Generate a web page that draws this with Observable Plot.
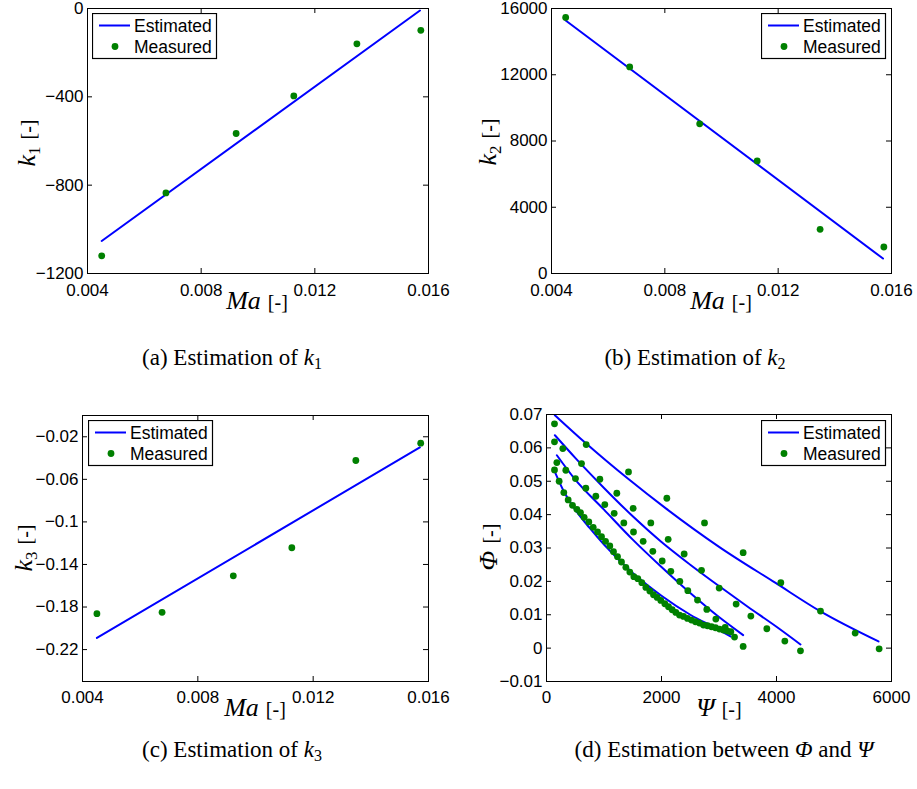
<!DOCTYPE html>
<html><head><meta charset="utf-8">
<script src="https://cdn.jsdelivr.net/npm/d3@7"></script>
<script src="https://cdn.jsdelivr.net/npm/@observablehq/plot@0.6"></script>
<style>
html,body{margin:0;padding:0;background:#fff;}
#root{position:relative;width:917px;height:789px;overflow:hidden;background:#fff;}
.panel{position:absolute;}
.txt{position:absolute;white-space:nowrap;line-height:1;color:#000;font-family:"Liberation Serif","DejaVu Serif",serif;transform:translate(-50%,-50%);}
.rot{transform:translate(-50%,-50%) rotate(-90deg);}
.txt i{font-style:italic;}
.txt sub{vertical-align:-0.3em;line-height:0;}
.axl i{font-size:26px;}
.axl sub{font-size:17px;}
.axl span{font-size:20px;margin-left:7px;}
.cap{font-size:23px;}
.cap sub{font-size:16px;}
.leg{position:absolute;}
</style></head>
<body><div id="root"></div>
<script>
// ---------- data ----------
const maValues = [0.0045, 0.00676, 0.00923, 0.01126, 0.01348, 0.01573];
const estMa = [0.0045, 0.0157];

const k1Measured = [-1120, -835, -566, -396, -160, -99];
const k1Estimated = [-1053, -9];

const k2Measured = [15460, 12470, 9040, 6797, 2665, 1600];
const k2Estimated = [15278, 902];

const k3Measured = [-0.1863, -0.185, -0.1507, -0.1243, -0.0423, -0.026];
const k3Estimated = [-0.209, -0.030];

const psiMeas1 = [139, 690, 1426, 2093, 2748, 3420, 4075, 4765, 5368, 5785];
const phiMeas1 = [0.0672, 0.0610, 0.0528, 0.0449, 0.0375, 0.0286, 0.0196, 0.0111, 0.0045, -0.0002];
const psiMeas2 = [139, 284, 609, 928, 1223, 1507, 1814, 2116, 2394, 2696, 3003, 3298, 3554, 3832, 4145, 4417];
const phiMeas2 = [0.0618, 0.0598, 0.0553, 0.0506, 0.0464, 0.0419, 0.0375, 0.0326, 0.0282, 0.0233, 0.0180, 0.0132, 0.0096, 0.0058, 0.0021, -0.0008];
const psiMeas3 = [180, 336, 504, 684, 858, 1014, 1177, 1345, 1513, 1681, 1849, 2012, 2162, 2319, 2458, 2626, 2788, 2945, 3107, 3270, 3420];
const phiMeas3 = [0.0556, 0.0533, 0.0508, 0.0479, 0.0455, 0.0430, 0.0404, 0.0375, 0.0348, 0.0320, 0.0290, 0.0261, 0.0230, 0.0200, 0.0172, 0.0144, 0.0116, 0.0087, 0.0062, 0.0033, 0.0005];
const psiMeas4 = [139, 220, 301, 377, 452, 528, 591, 655, 736, 812, 887, 957, 1026, 1101, 1165, 1235, 1304, 1380, 1449, 1519, 1588, 1658, 1728, 1797, 1861, 1925, 1988, 2058, 2122, 2186, 2249, 2313, 2383, 2452, 2522, 2591, 2661, 2730, 2800, 2870, 2939, 3009, 3078, 3148, 3206];
const phiMeas4 = [0.0534, 0.0500, 0.0466, 0.0444, 0.0428, 0.0416, 0.0406, 0.0392, 0.0378, 0.0362, 0.0348, 0.0334, 0.0320, 0.0306, 0.0289, 0.0274, 0.0258, 0.0242, 0.0228, 0.0214, 0.0208, 0.0196, 0.0182, 0.0171, 0.0160, 0.0152, 0.0143, 0.0133, 0.0124, 0.0115, 0.0107, 0.0099, 0.0095, 0.0089, 0.0084, 0.0079, 0.0075, 0.0069, 0.0067, 0.0064, 0.0061, 0.0057, 0.0054, 0.0051, 0.0049];

const psiEst1 = [145, 690, 1414, 2081, 3014, 3977, 4765, 5774];
const phiEst1 = [0.0698, 0.0613, 0.0508, 0.0418, 0.0302, 0.0196, 0.0110, 0.0020];
const psiEst2 = [145, 500, 1000, 1500, 2000, 2500, 3000, 3500, 4000, 4417];
const phiEst2 = [0.0638, 0.0570, 0.0480, 0.0395, 0.0318, 0.0250, 0.0186, 0.0124, 0.0064, 0.0011];
const psiEst3 = [180, 500, 1000, 1500, 2000, 2500, 3000, 3420];
const phiEst3 = [0.0578, 0.0505, 0.0415, 0.0325, 0.0243, 0.0165, 0.0093, 0.0039];
const psiEst4 = [145, 300, 500, 750, 1000, 1500, 2000, 2500, 3000, 3200];
const phiEst4 = [0.0528, 0.0470, 0.0415, 0.0360, 0.0310, 0.0225, 0.0157, 0.0100, 0.0055, 0.0035];

const maTicks = [0.004, 0.008, 0.012, 0.016];
const maTickLabels = ["0.004", "0.008", "0.012", "0.016"];
const k1Ticks = [-1200, -800, -400, 0];
const k1TickLabels = ["\u22121200", "\u2212800", "\u2212400", "0"];
const k2Ticks = [0, 4000, 8000, 12000, 16000];
const k2TickLabels = ["0", "4000", "8000", "12000", "16000"];
const k3Ticks = [-0.22, -0.18, -0.14, -0.1, -0.06, -0.02];
const k3TickLabels = ["\u22120.22", "\u22120.18", "\u22120.14", "\u22120.1", "\u22120.06", "\u22120.02"];
const psiTicks = [0, 2000, 4000, 6000];
const psiTickLabels = ["0", "2000", "4000", "6000"];
const phiTicks = [-0.01, 0, 0.01, 0.02, 0.03, 0.04, 0.05, 0.06, 0.07];
const phiTickLabels = ["\u22120.01", "0", "0.01", "0.02", "0.03", "0.04", "0.05", "0.06", "0.07"];

const legendLabels = ["Estimated", "Measured"];
const BLUE = "#0000ff", GREEN = "#008000";

// ---------- helpers ----------
function rows(xs, ys, s) { return xs.map((x, i) => ({x, y: ys[i], s})); }

function makePanel(cfg) {
  const pw = cfg.width - cfg.ml - cfg.mr;
  const ph = cfg.height - cfg.mt - cfg.mb;
  const xLab = new Map(cfg.xTicks.map((t, i) => [t, cfg.xLabels[i]]));
  const yLab = new Map(cfg.yTicks.map((t, i) => [t, cfg.yLabels[i]]));
  const svg = Plot.plot({
    width: cfg.width, height: cfg.height,
    marginLeft: cfg.ml, marginRight: cfg.mr, marginTop: cfg.mt, marginBottom: cfg.mb,
    x: {type: "linear", domain: cfg.xDomain},
    y: {type: "linear", domain: cfg.yDomain},
    style: {fontFamily: "'Liberation Sans', Arial, sans-serif", fontSize: "17px", color: "#000", background: "transparent", overflow: "visible"},
    marks: [
      Plot.line(cfg.est, {x: "x", y: "y", z: "s", stroke: BLUE, strokeWidth: 2, curve: "monotone-x"}),
      Plot.dot(cfg.meas, {x: "x", y: "y", r: 3.4, fill: GREEN}),
      Plot.frame({stroke: "#000", strokeWidth: 1}),
      Plot.tickX(cfg.xTicks, {x: d => d, insetTop: ph - 5, stroke: "#000"}),
      Plot.tickX(cfg.xTicks, {x: d => d, insetBottom: ph - 5, stroke: "#000"}),
      Plot.tickY(cfg.yTicks, {y: d => d, insetRight: pw - 5, stroke: "#000"}),
      Plot.tickY(cfg.yTicks, {y: d => d, insetLeft: pw - 5, stroke: "#000"}),
      Plot.axisX(cfg.xTicks, {tickSize: 0, tickPadding: cfg.xPad, tickFormat: d => xLab.get(d), label: null, fontSize: 17}),
      Plot.axisY(cfg.yTicks, {tickSize: 0, tickPadding: 4, tickFormat: d => yLab.get(d), label: null, fontSize: 17})
    ]
  });
  svg.classList.add("panel");
  svg.style.left = cfg.left + "px";
  svg.style.top = cfg.top + "px";
  svg.style.position = "absolute";
  return svg;
}

function addText(html, cls, cx, cy) {
  const d = document.createElement("div");
  d.className = "txt " + cls;
  d.innerHTML = html;
  d.style.left = cx + "px";
  d.style.top = cy + "px";
  root.appendChild(d);
}

function addLegend(left, top) {
  const w = 125, h = 46;
  const ns = "http://www.w3.org/2000/svg";
  const s = document.createElementNS(ns, "svg");
  s.setAttribute("width", w + 1); s.setAttribute("height", h + 1);
  s.setAttribute("class", "leg");
  s.style.left = left + "px"; s.style.top = top + "px";
  s.innerHTML =
    `<rect x="0.5" y="0.5" width="${w - 1}" height="${h - 1}" fill="#fff" stroke="#000" stroke-width="1.2"/>` +
    `<line x1="7" x2="38" y1="12.5" y2="12.5" stroke="${BLUE}" stroke-width="2"/>` +
    `<circle cx="23" cy="33.5" r="3.4" fill="${GREEN}"/>` +
    `<text x="42" y="12.5" dy="0.36em" font-family="Liberation Sans, Arial, sans-serif" font-size="17.5">${legendLabels[0]}</text>` +
    `<text x="42" y="33.5" dy="0.36em" font-family="Liberation Sans, Arial, sans-serif" font-size="17.5">${legendLabels[1]}</text>`;
  root.appendChild(s);
}

const root = document.getElementById("root");

// (a)
root.appendChild(makePanel({
  left: 0, top: 0, width: 458, height: 310, ml: 87, mr: 30, mt: 8, mb: 37, xPad: 10,
  xDomain: [0.004, 0.016], yDomain: [-1200, 0],
  xTicks: maTicks, xLabels: maTickLabels, yTicks: k1Ticks, yLabels: k1TickLabels,
  est: rows(estMa, k1Estimated, "e"), meas: rows(maValues, k1Measured, "m")
}));
// (b)
root.appendChild(makePanel({
  left: 458, top: 0, width: 459, height: 310, ml: 93, mr: 26, mt: 8, mb: 37, xPad: 10,
  xDomain: [0.004, 0.016], yDomain: [0, 16000],
  xTicks: maTicks, xLabels: maTickLabels, yTicks: k2Ticks, yLabels: k2TickLabels,
  est: rows(estMa, k2Estimated, "e"), meas: rows(maValues, k2Measured, "m")
}));
// (c)
root.appendChild(makePanel({
  left: 0, top: 395, width: 458, height: 320, ml: 82, mr: 30, mt: 20, mb: 34, xPad: 9,
  xDomain: [0.004, 0.016], yDomain: [-0.25, 0],
  xTicks: maTicks, xLabels: maTickLabels, yTicks: k3Ticks, yLabels: k3TickLabels,
  est: rows(estMa, k3Estimated, "e"), meas: rows(maValues, k3Measured, "m")
}));
// (d)
root.appendChild(makePanel({
  left: 458, top: 395, width: 459, height: 320, ml: 88, mr: 26, mt: 19, mb: 34, xPad: 9,
  xDomain: [0, 6000], yDomain: [-0.01, 0.07],
  xTicks: psiTicks, xLabels: psiTickLabels, yTicks: phiTicks, yLabels: phiTickLabels,
  est: [...rows(psiEst1, phiEst1, 1), ...rows(psiEst2, phiEst2, 2), ...rows(psiEst3, phiEst3, 3), ...rows(psiEst4, phiEst4, 4)],
  meas: [...rows(psiMeas1, phiMeas1, 1), ...rows(psiMeas2, phiMeas2, 2), ...rows(psiMeas3, phiMeas3, 3), ...rows(psiMeas4, phiMeas4, 4)]
}));

// legends
addLegend(92, 13);
addLegend(761, 13);
addLegend(88, 420);
addLegend(761, 420);

// axis labels
addText('<i>Ma</i><span>[-]</span>', "axl", 257, 301);
addText('<i>Ma</i><span>[-]</span>', "axl", 721, 301);
addText('<i>Ma</i><span>[-]</span>', "axl", 255, 708);
addText('<i>\u03A8</i><span>[-]</span>', "axl", 719, 708);

addText('<i>k</i><sub>1</sub><span>[-]</span>', "axl rot", 27, 143);
addText('<i>k</i><sub>2</sub><span>[-]</span>', "axl rot", 488, 142);
addText('<i>k</i><sub>3</sub><span>[-]</span>', "axl rot", 24, 548);
addText('<i>\u03A6</i><span>[-]</span>', "axl rot", 489, 547);

// captions
addText('(a) Estimation of <i>k</i><sub>1</sub>', "cap", 232, 357);
addText('(b) Estimation of <i>k</i><sub>2</sub>', "cap", 695, 357);
addText('(c) Estimation of <i>k</i><sub>3</sub>', "cap", 232, 749);
addText('(d) Estimation between <i>\u03A6</i> and <i>\u03A8</i>', "cap", 724, 749);
</script>
</body></html>
